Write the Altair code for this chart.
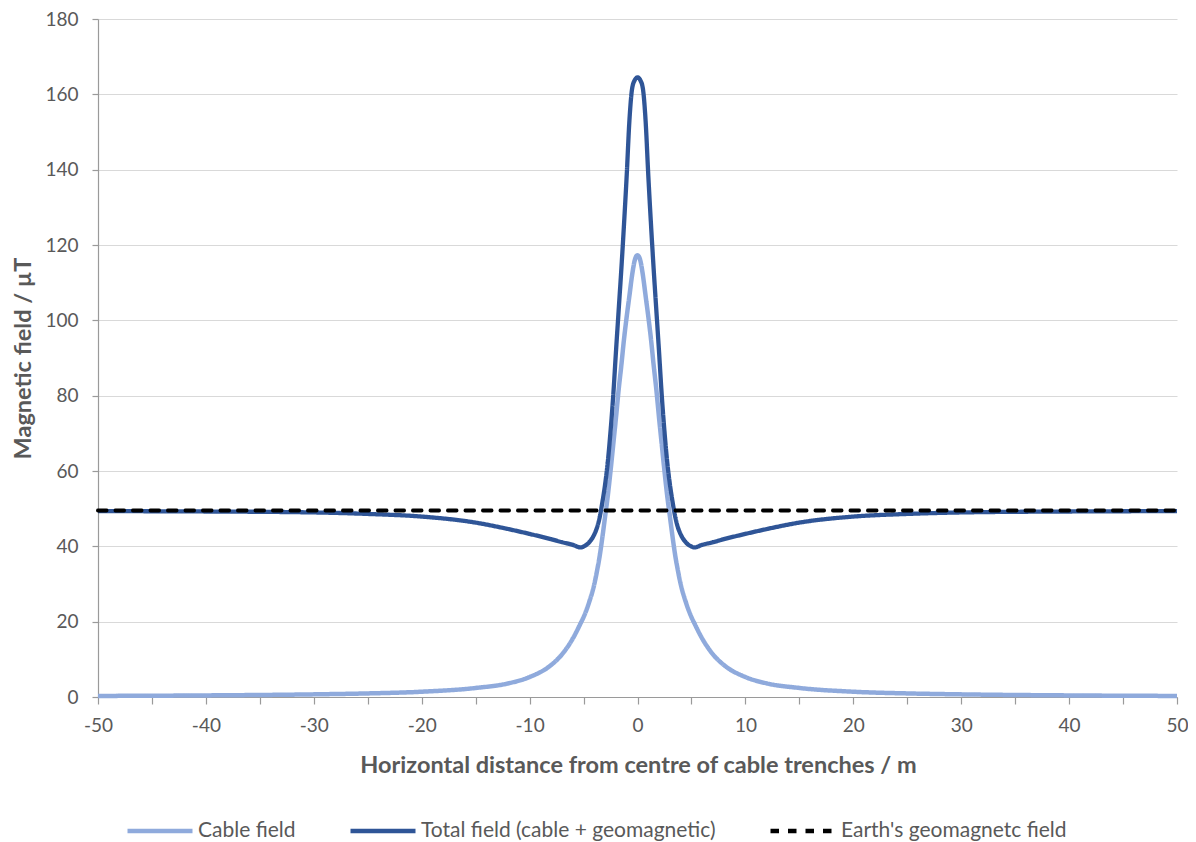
import altair as alt
import pandas as pd

# Horizontal distance (m)
x_values = [-50, -40, -30, -25, -20, -15, -12, -10, -8, -7, -6, -5.25, -5, -4.5, -4,
            -3.75, -3.5, -3.25, -3, -2.75, -2.5, -2.25, -2, -1.75, -1.5, -1.25, -1,
            -0.75, -0.5, -0.25, 0, 0.25, 0.5, 0.75, 1, 1.25, 1.5, 1.75, 2, 2.25, 2.5,
            2.75, 3, 3.25, 3.5, 3.75, 4, 4.5, 5, 5.25, 6, 7, 8, 10, 12, 15, 20, 25, 30,
            40, 50]

# Cable field (uT)
cable_field = [0.28, 0.42, 0.7, 0.95, 1.4, 2.4, 3.6, 5.3, 8.5, 11.3, 15.5, 19.7, 21.2, 25,
               30, 33.5, 37.5, 42.5, 48, 53.5, 60, 67, 74, 81.5, 88, 95, 101, 106.5, 112,
               116, 117.3, 116, 112, 106.5, 101, 95, 88, 81.5, 74, 67, 60, 53.5, 48,
               42.5, 37.5, 33.5, 30, 25, 21.2, 19.7, 15.5, 11.3, 8.5, 5.3, 3.6, 2.4, 1.4,
               0.95, 0.7, 0.42, 0.28]

# Total field (uT)
total_field = [49.35, 49.25, 49.0, 48.6, 47.9, 46.3, 44.6, 43.3, 41.9, 41.1, 40.4, 39.7,
               39.95, 41, 43.2, 45, 47.8, 51.8, 56.5, 62.5, 70.5, 80, 91.5, 102.5, 113.5,
               125.5, 138.5, 153, 161.5, 163.8, 164.5, 163.8, 161.5, 153, 138.5, 125.5,
               113.5, 102.5, 91.5, 80, 70.5, 62.5, 56.5, 51.8, 47.8, 45, 43.2, 41, 39.95,
               39.7, 40.4, 41.1, 41.9, 43.3, 44.6, 46.3, 47.9, 48.6, 49.0, 49.25, 49.35]

# Earth's geomagnetic field (uT)
earth_x = [-50, 50]
earth_field = [49.5, 49.5]

series_names = ["Cable field", "Total field (cable + geomagnetic)", "Earth's geomagnetc field"]
series_colors = ["#8FAADC", "#2F5597", "#000000"]
series_dashes = [[1, 0], [1, 0], [8.5, 9]]

rows = []
for xv, yv in zip(x_values, cable_field):
    rows.append({"x": xv, "y": yv, "series": series_names[0]})
for xv, yv in zip(x_values, total_field):
    rows.append({"x": xv, "y": yv, "series": series_names[1]})
for xv, yv in zip(earth_x, earth_field):
    rows.append({"x": xv, "y": yv, "series": series_names[2]})
df = pd.DataFrame(rows)

FONT = "Lato"
GREY = "#595959"

legend = alt.Legend(
    title=None,
    orient="none",
    legendX=27,
    legendY=777,
    direction="horizontal",
    symbolType="stroke",
    symbolSize=4225,
    symbolStrokeWidth=4.5,
    labelOffset=3,
    labelLimit=600,
    columnPadding=45,
    labelFont=FONT,
    labelFontSize=21,
    labelColor=GREY,
    padding=0,
)

base = alt.Chart(df).encode(
    x=alt.X(
        "x:Q",
        scale=alt.Scale(domain=[-50, 50], nice=False, zero=False),
        axis=alt.Axis(
            values=list(range(-50, 51, 5)),
            labelExpr="datum.value % 10 === 0 ? '' + datum.value : ''",
            labelFlush=False,
            grid=False,
            tickSize=7,
            labelPadding=12,
            title="Horizontal distance from centre of cable trenches / m",
            titleX=540,
            titleY=68,
            titleBaseline="middle",
        ),
    ),
    y=alt.Y(
        "y:Q",
        scale=alt.Scale(domain=[0, 180], nice=False),
        axis=alt.Axis(
            values=list(range(0, 181, 20)),
            grid=True,
            tickSize=6,
            labelPadding=14,
            title="Magnetic field / µT",
            titleX=-75,
            titleY=339,
            titleAngle=270,
            titleBaseline="middle",
        ),
    ),
    color=alt.Color("series:N", scale=alt.Scale(domain=series_names, range=series_colors), legend=legend),
    strokeDash=alt.StrokeDash("series:N", scale=alt.Scale(domain=series_names, range=series_dashes), legend=legend),
)

cable_line = base.transform_filter(alt.datum.series == series_names[0]).mark_line(
    strokeWidth=4.5, interpolate="monotone"
)
total_line = base.transform_filter(alt.datum.series == series_names[1]).mark_line(
    strokeWidth=4.3, interpolate="monotone"
)
earth_line = base.transform_filter(alt.datum.series == series_names[2]).mark_line(
    strokeWidth=4, strokeCap="round"
)

chart = (
    alt.layer(cable_line, total_line, earth_line)
    .properties(
        width=1079,
        height=678,
        padding={"left": 90, "top": 11, "right": 11, "bottom": 145},
        autosize=alt.AutoSizeParams(type="none"),
    )
    .configure_view(stroke=None)
    .configure_axis(
        labelFont=FONT,
        labelFontSize=19,
        labelColor=GREY,
        titleFont=FONT,
        titleFontSize=23.5,
        titleFontWeight="bold",
        titleColor=GREY,
        domainColor="#9a9a9a",
        domainWidth=1.2,
        tickColor="#9a9a9a",
        tickWidth=1.2,
        gridColor="#d9d9d9",
        gridWidth=1.2,
    )
)

chart.save("out.html", embed_options={"renderer": "svg", "actions": False})
